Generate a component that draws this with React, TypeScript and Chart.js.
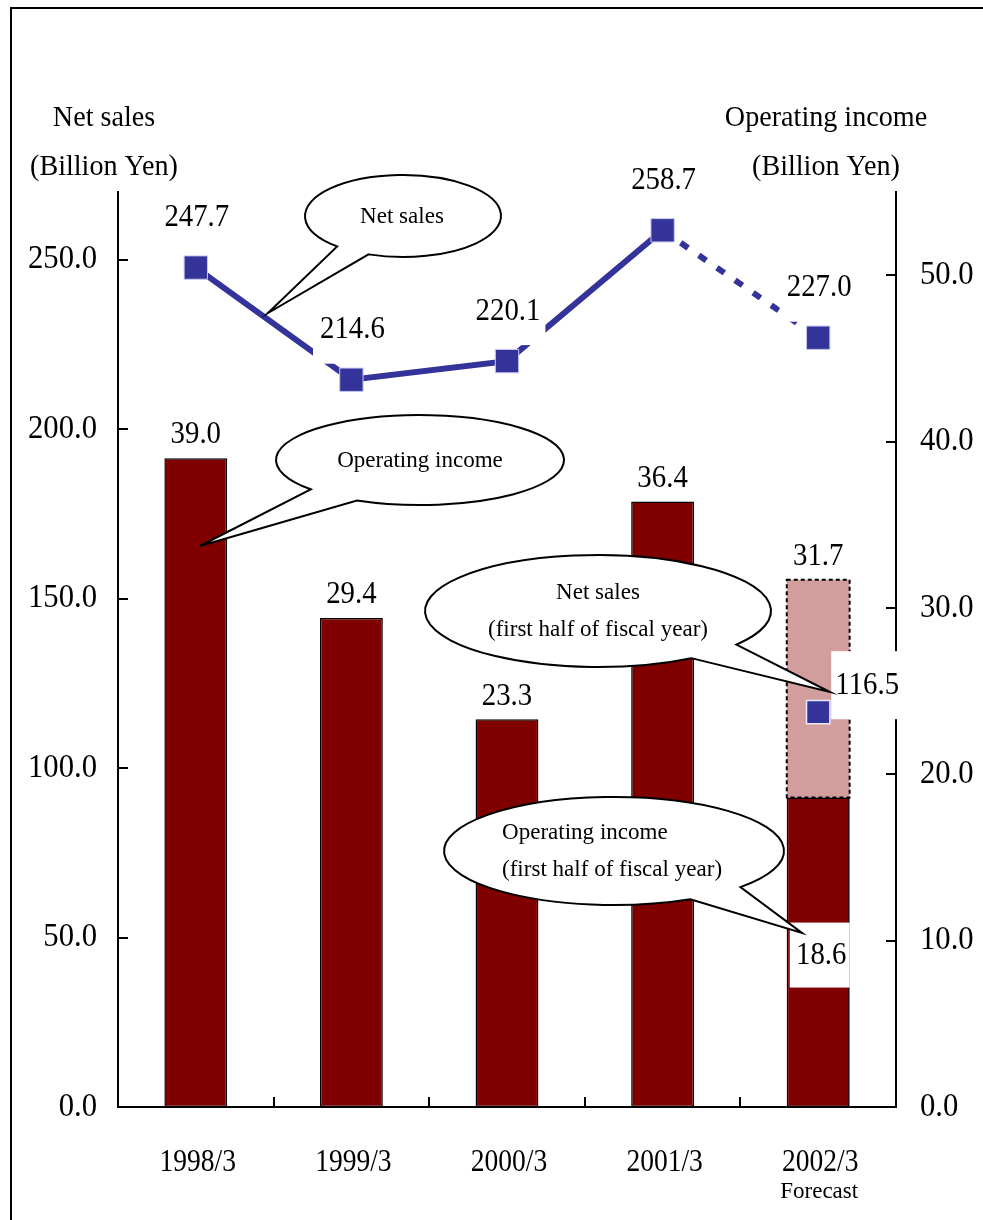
import React, { useEffect, useRef } from 'react';
import { Chart, registerables } from 'chart.js';

Chart.register(...registerables);

// ---------- data ----------
const categories = ['1998/3', '1999/3', '2000/3', '2001/3', '2002/3'];
const categorySubLabels = ['', '', '', '', 'Forecast'];
const netSales = [247.7, 214.6, 220.1, 258.7, 227.0];
const netSalesFirstHalf = [null, null, null, null, 116.5];
const operatingIncome = [39.0, 29.4, 23.3, 36.4, 31.7];
const operatingIncomeFirstHalf = [null, null, null, null, 18.6];
const leftTicks = [0, 50, 100, 150, 200, 250];
const rightTicks = [0, 10, 20, 30, 40, 50];
const leftMax = 270;
const rightMax = 55;
const forecastIndex = 4;

const leftTitle = ['Net sales', '(Billion Yen)'];
const rightTitle = ['Operating income', '(Billion Yen)'];

const MAROON = '#800000';
const PINK = '#D29D9D';
const BLUE = '#333399';
const FONT = '"Liberation Serif", "Times New Roman", serif';

function drawText(ctx: CanvasRenderingContext2D, s: string, x: number, y: number, size: number,
  align: CanvasTextAlign = 'center', base: CanvasTextBaseline = 'middle', sx = 1) {
  ctx.save();
  ctx.font = `${size}px ${FONT}`;
  ctx.textAlign = align;
  ctx.textBaseline = base;
  ctx.fillStyle = '#000';
  ctx.translate(x, y);
  ctx.scale(sx, 1);
  ctx.fillText(s, 0, 0);
  ctx.restore();
}

function textWidth(ctx: CanvasRenderingContext2D, s: string, size: number, sx = 1) {
  ctx.save();
  ctx.font = `${size}px ${FONT}`;
  const w = ctx.measureText(s).width * sx;
  ctx.restore();
  return w;
}

type Bubble = {
  cx: number; cy: number; rx: number; ry: number;
  b1: [number, number]; b2: [number, number]; tip: [number, number];
  lines: { t: string; x: number; y: number; align: CanvasTextAlign }[];
};

const bubbles: Bubble[] = [
  { cx: 403, cy: 216, rx: 98, ry: 41, b1: [338, 246], b2: [368, 255], tip: [268, 313],
    lines: [{ t: 'Net sales', x: 402, y: 217, align: 'center' }] },
  { cx: 420, cy: 460, rx: 144, ry: 45, b1: [308, 490], b2: [353, 503], tip: [200, 546],
    lines: [{ t: 'Operating income', x: 420, y: 461, align: 'center' }] },
  { cx: 598, cy: 611, rx: 173, ry: 56, b1: [738, 645], b2: [693, 659], tip: [830, 692],
    lines: [
      { t: 'Net sales', x: 598, y: 593, align: 'center' },
      { t: '(first half of fiscal year)', x: 598, y: 630, align: 'center' },
    ] },
  { cx: 614, cy: 851, rx: 170, ry: 54, b1: [740, 887], b2: [690, 899], tip: [802, 933],
    lines: [
      { t: 'Operating income', x: 502, y: 833, align: 'left' },
      { t: '(first half of fiscal year)', x: 502, y: 870, align: 'left' },
    ] },
];

function drawBubble(ctx: CanvasRenderingContext2D, b: Bubble) {
  const a1 = Math.atan2((b.b1[1] - b.cy) / b.ry, (b.b1[0] - b.cx) / b.rx);
  const a2 = Math.atan2((b.b2[1] - b.cy) / b.ry, (b.b2[0] - b.cx) / b.rx);
  let d = a2 - a1;
  while (d < 0) d += Math.PI * 2;
  while (d >= Math.PI * 2) d -= Math.PI * 2;
  const anticlockwise = d <= Math.PI;
  ctx.save();
  ctx.beginPath();
  ctx.ellipse(b.cx, b.cy, b.rx, b.ry, 0, a1, a2, anticlockwise);
  ctx.lineTo(b.tip[0], b.tip[1]);
  ctx.closePath();
  ctx.fillStyle = '#fff';
  ctx.fill();
  ctx.lineWidth = 2;
  ctx.strokeStyle = '#000';
  ctx.lineJoin = 'miter';
  ctx.stroke();
  ctx.restore();
  for (const l of b.lines) drawText(ctx, l.t, l.x, l.y, 24, l.align, 'middle', 0.96);
}

function whiteBox(ctx: CanvasRenderingContext2D, x1: number, y1: number, x2: number, y2: number) {
  ctx.save();
  ctx.fillStyle = '#fff';
  ctx.fillRect(x1, y1, x2 - x1, y2 - y1);
  ctx.restore();
}

const decorPlugin = {
  id: 'decor',
  afterDatasetsDraw(chart: any) {
    const ctx: CanvasRenderingContext2D = chart.ctx;
    const area = chart.chartArea;
    const xs = chart.scales.x;
    const ys = chart.scales.y;
    const ys1 = chart.scales.y1;

    // dashed outline of the forecast (full-year) operating income part
    const fullBar = chart.getDatasetMeta(0).data[forecastIndex];
    const halfBar = chart.getDatasetMeta(1).data[forecastIndex];
    if (fullBar && halfBar) {
      const l = fullBar.x - fullBar.width / 2;
      const r = fullBar.x + fullBar.width / 2;
      ctx.save();
      ctx.strokeStyle = '#000';
      ctx.lineWidth = 2;
      ctx.setLineDash([4, 3]);
      ctx.strokeRect(l, fullBar.y, r - l, halfBar.y - fullBar.y);
      ctx.restore();
    }

    // tick marks (inward)
    ctx.save();
    ctx.strokeStyle = '#000';
    ctx.lineWidth = 2;
    ctx.beginPath();
    for (const v of leftTicks) {
      const py = Math.round(ys.getPixelForValue(v));
      ctx.moveTo(area.left, py);
      ctx.lineTo(area.left + 10, py);
    }
    for (const v of rightTicks) {
      const py = Math.round(ys1.getPixelForValue(v));
      ctx.moveTo(area.right - 10, py);
      ctx.lineTo(area.right, py);
    }
    for (let i = 1; i < categories.length; i++) {
      const px = Math.round((xs.getPixelForValue(i - 1) + xs.getPixelForValue(i)) / 2);
      ctx.moveTo(px, area.bottom);
      ctx.lineTo(px, area.bottom - 10);
    }
    ctx.stroke();
    ctx.restore();

    // net sales labels with white boxes
    const lineMeta = chart.getDatasetMeta(2);
    lineMeta.data.forEach((pt: any, i: number) => {
      const s = netSales[i].toFixed(1);
      const w = textWidth(ctx, s, 32, 0.9);
      const cy = pt.y - 50;
      whiteBox(ctx, pt.x - w / 2 - 6, cy - 20, pt.x + w / 2 + 6, cy + 34);
      drawText(ctx, s, pt.x + 1, cy, 32, 'center', 'middle', 0.9);
    });

    // operating income labels above bars
    const barMeta = chart.getDatasetMeta(0);
    barMeta.data.forEach((bar: any, i: number) => {
      drawText(ctx, operatingIncome[i].toFixed(1), bar.x, bar.y - 23, 31, 'center', 'middle', 0.93);
    });

    // first-half labels
    const h1Pt = chart.getDatasetMeta(3).data[forecastIndex];
    if (h1Pt) {
      const cx = h1Pt.x + 49;
      const cy = h1Pt.y - 27;
      whiteBox(ctx, h1Pt.x + 13, cy - 34, h1Pt.x + 88, cy + 34);
      drawText(ctx, (netSalesFirstHalf[forecastIndex] as number).toFixed(1), cx, cy, 32, 'center', 'middle', 0.9);
    }
    if (halfBar) {
      const cy = halfBar.y + 158;
      whiteBox(ctx, halfBar.x - halfBar.width / 2 + 3, cy - 33, halfBar.x + halfBar.width / 2, cy + 32);
      drawText(ctx, (operatingIncomeFirstHalf[forecastIndex] as number).toFixed(1), halfBar.x + 3, cy, 32, 'center', 'middle', 0.9);
    }

    // callouts
    for (const b of bubbles) drawBubble(ctx, b);

    // axis tick labels
    for (const v of leftTicks) {
      drawText(ctx, v.toFixed(1), area.left - 21, ys.getPixelForValue(v), 33, 'right', 'middle', 0.93);
    }
    for (const v of rightTicks) {
      drawText(ctx, v.toFixed(1), area.right + 24, ys1.getPixelForValue(v), 33, 'left', 'middle', 0.93);
    }
    categories.forEach((c, i) => {
      const px = xs.getPixelForValue(i);
      drawText(ctx, c, px + 2, area.bottom + 56, 32, 'center', 'middle', 0.86);
      if (categorySubLabels[i]) drawText(ctx, categorySubLabels[i], px + 1, area.bottom + 91, 23, 'center', 'alphabetic', 1);
    });

    // axis titles
    drawText(ctx, leftTitle[0], 104, 126, 29, 'center', 'alphabetic', 0.97);
    drawText(ctx, leftTitle[1], 104, 175, 29, 'center', 'alphabetic', 0.97);
    drawText(ctx, rightTitle[0], 826, 126, 29, 'center', 'alphabetic', 0.97);
    drawText(ctx, rightTitle[1], 826, 175, 29, 'center', 'alphabetic', 0.97);

    // outer frame
    ctx.save();
    ctx.strokeStyle = '#000';
    ctx.lineWidth = 2;
    ctx.strokeRect(11, 8, 1000, 1250);
    ctx.restore();
  },
};

export default function App() {
  const ref = useRef<HTMLCanvasElement | null>(null);

  useEffect(() => {
    if (!ref.current) return;
    const chart = new Chart(ref.current, {
      type: 'bar',
      data: {
        labels: categories,
        datasets: [
          {
            type: 'bar',
            label: 'Operating income',
            data: operatingIncome,
            yAxisID: 'y1',
            backgroundColor: operatingIncome.map((_, i) => (i === forecastIndex ? PINK : MAROON)),
            borderColor: '#000',
            borderWidth: operatingIncome.map((_, i) => (i === forecastIndex ? 0 : 1.5)),
            borderSkipped: false,
            grouped: false,
            order: 3,
          } as any,
          {
            type: 'bar',
            label: 'Operating income (first half)',
            data: operatingIncomeFirstHalf,
            yAxisID: 'y1',
            backgroundColor: MAROON,
            borderColor: '#000',
            borderWidth: 1.5,
            borderSkipped: false,
            grouped: false,
            order: 2,
          } as any,
          {
            type: 'line',
            label: 'Net sales',
            data: netSales,
            yAxisID: 'y',
            borderColor: BLUE,
            borderWidth: 6,
            backgroundColor: BLUE,
            pointStyle: 'rect',
            pointRadius: 16.5,
            pointBorderColor: '#C8C8F0',
            pointBorderWidth: 1,
            pointBackgroundColor: BLUE,
            segment: {
              borderDash: (c: any) => (c.p1DataIndex === forecastIndex ? [9, 13] : undefined),
            },
            order: 1,
          } as any,
          {
            type: 'line',
            label: 'Net sales (first half)',
            data: netSalesFirstHalf,
            yAxisID: 'y',
            showLine: false,
            pointStyle: 'rect',
            pointRadius: 16.5,
            pointBorderColor: '#E8E8FF',
            pointBorderWidth: 1.5,
            pointBackgroundColor: BLUE,
            order: 0,
          } as any,
        ],
      },
      options: {
        responsive: false,
        animation: false,
        devicePixelRatio: 1,
        layout: { padding: { top: 192, left: 0, right: 0, bottom: 0 } },
        plugins: { legend: { display: false }, tooltip: { enabled: false } },
        datasets: { bar: { categoryPercentage: 1, barPercentage: 0.404 } },
        scales: {
          x: {
            type: 'category',
            offset: true,
            grid: { display: false },
            border: { display: true, color: '#000', width: 2 },
            ticks: { display: false },
            afterFit: (s: any) => { s.height = 113; },
          },
          y: {
            position: 'left',
            min: 0,
            max: leftMax,
            grid: { display: false },
            border: { display: true, color: '#000', width: 2 },
            ticks: { display: false },
            afterFit: (s: any) => { s.width = 118; },
          },
          y1: {
            position: 'right',
            min: 0,
            max: rightMax,
            grid: { display: false },
            border: { display: true, color: '#000', width: 2 },
            ticks: { display: false },
            afterFit: (s: any) => { s.width = 87; },
          },
        },
      } as any,
      plugins: [decorPlugin],
    });
    return () => chart.destroy();
  }, []);

  return (
    <div style={{ position: 'absolute', left: 0, top: 0, width: 983, height: 1220, background: '#fff' }}>
      <canvas ref={ref} width={983} height={1220} style={{ display: 'block' }} />
    </div>
  );
}
